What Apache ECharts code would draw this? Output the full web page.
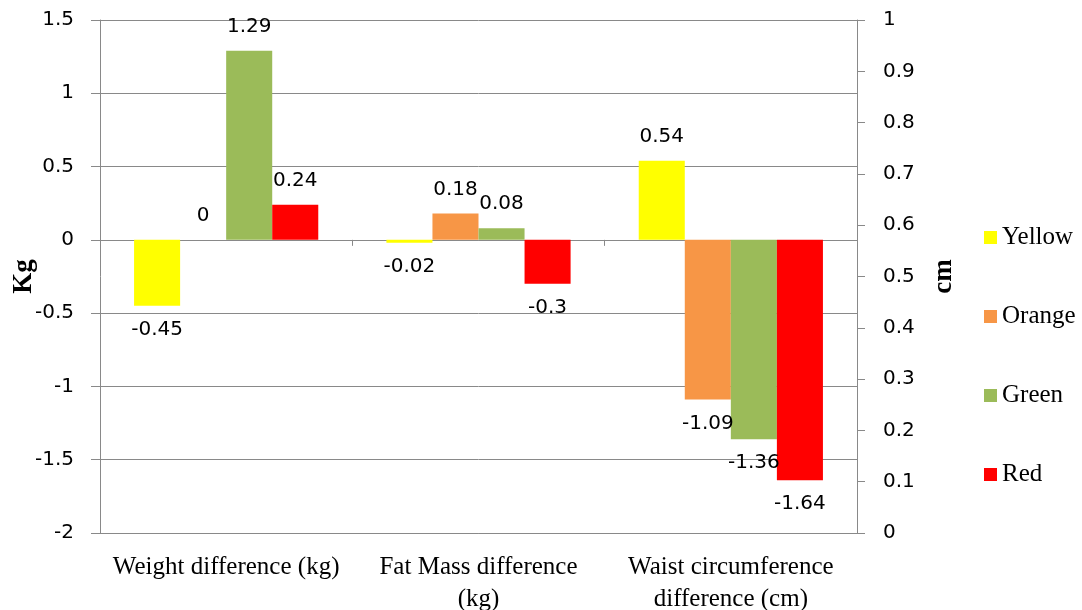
<!DOCTYPE html>
<html>
<head>
<meta charset="utf-8">
<script src="https://cdn.jsdelivr.net/npm/echarts@6/dist/echarts.min.js"></script>
<style>
html,body{margin:0;padding:0;background:#fff;}
#chart{width:1082px;height:610px;}
</style>
</head>
<body>
<div id="chart"></div>
<script>
const categories = ['Weight difference (kg)', 'Fat Mass difference\n(kg)', 'Waist circumference\ndifference (cm)'];
const seriesNames = ['Yellow', 'Orange', 'Green', 'Red'];
const yellowValues = [-0.45, -0.02, 0.54];
const orangeValues = [0, 0.18, -1.09];
const greenValues = [1.29, 0.08, -1.36];
const redValues = [0.24, -0.3, -1.64];
const seriesColors = ['#FFFF00', '#F79646', '#9BBB59', '#FF0000'];

const allValues = [yellowValues, orangeValues, greenValues, redValues];
const gray = '#898989';

const chart = echarts.init(document.getElementById('chart'));
const sans = 'DejaVu Sans';
const serif = 'Liberation Serif';

const series = seriesNames.map((name, i) => ({
  name: name,
  type: 'bar',
  xAxisIndex: 0,
  yAxisIndex: 0,
  barGap: '0%',
  barCategoryGap: '27%',
  itemStyle: { color: seriesColors[i] },
  data: allValues[i].map(v => ({
    value: v,
    label: { position: v >= 0 ? 'top' : 'bottom' }
  })),
  label: {
    show: true,
    distance: 14,
    color: '#000',
    fontFamily: sans,
    fontSize: 20,
    formatter: p => String(p.value)
  }
}));

chart.setOption({
  animation: false,
  backgroundColor: '#fff',
  grid: { left: 100, right: 225, top: 20, bottom: 77, containLabel: false, outerBoundsMode: 'none' },
  legend: {
    orient: 'vertical',
    left: 979,
    top: 220,
    itemWidth: 13,
    itemHeight: 13,
    itemGap: 54,
    icon: 'rect',
    data: seriesNames,
    textStyle: { fontFamily: serif, fontSize: 25, color: '#000', lineHeight: 25 }
  },
  xAxis: [
    {
      type: 'category',
      data: categories,
      position: 'bottom',
      axisLine: { onZero: false, lineStyle: { color: gray } },
      axisTick: { show: false },
      axisLabel: { interval: 0, margin: 18, color: '#000', fontFamily: serif, fontSize: 25, lineHeight: 32 }
    },
    {
      type: 'category',
      data: categories,
      position: 'top',
      axisLine: { onZero: true, onZeroAxisIndex: 0, lineStyle: { color: gray } },
      axisTick: { show: true, inside: true, length: 6, lineStyle: { color: gray } },
      axisLabel: { show: false },
      splitLine: { show: false }
    }
  ],
  yAxis: [
    {
      type: 'value',
      min: -2,
      max: 1.5,
      interval: 0.5,
      position: 'left',
      name: 'Kg',
      nameLocation: 'middle',
      nameRotate: 90,
      nameGap: 62,
      nameMoveOverlap: false,
      nameTextStyle: { fontFamily: serif, fontWeight: 'bold', fontSize: 27, color: '#000' },
      axisLine: { show: true, lineStyle: { color: gray } },
      axisTick: { show: true, length: 9, lineStyle: { color: gray } },
      axisLabel: { margin: 26, color: '#000', fontFamily: sans, fontSize: 20 },
      splitLine: { show: true, lineStyle: { color: gray, width: 1 } }
    },
    {
      type: 'value',
      min: 0,
      max: 1,
      interval: 0.1,
      position: 'right',
      name: 'cm',
      nameLocation: 'middle',
      nameRotate: 90,
      nameGap: 74,
      nameTextStyle: { fontFamily: serif, fontWeight: 'bold', fontSize: 27, color: '#000' },
      axisLine: { show: true, lineStyle: { color: gray } },
      axisTick: { show: true, length: 8, lineStyle: { color: gray } },
      axisLabel: { margin: 26, color: '#000', fontFamily: sans, fontSize: 20, formatter: v => String(Math.round(v * 10) / 10) },
      splitLine: { show: false }
    }
  ],
  series: series
});
</script>
</body>
</html>
